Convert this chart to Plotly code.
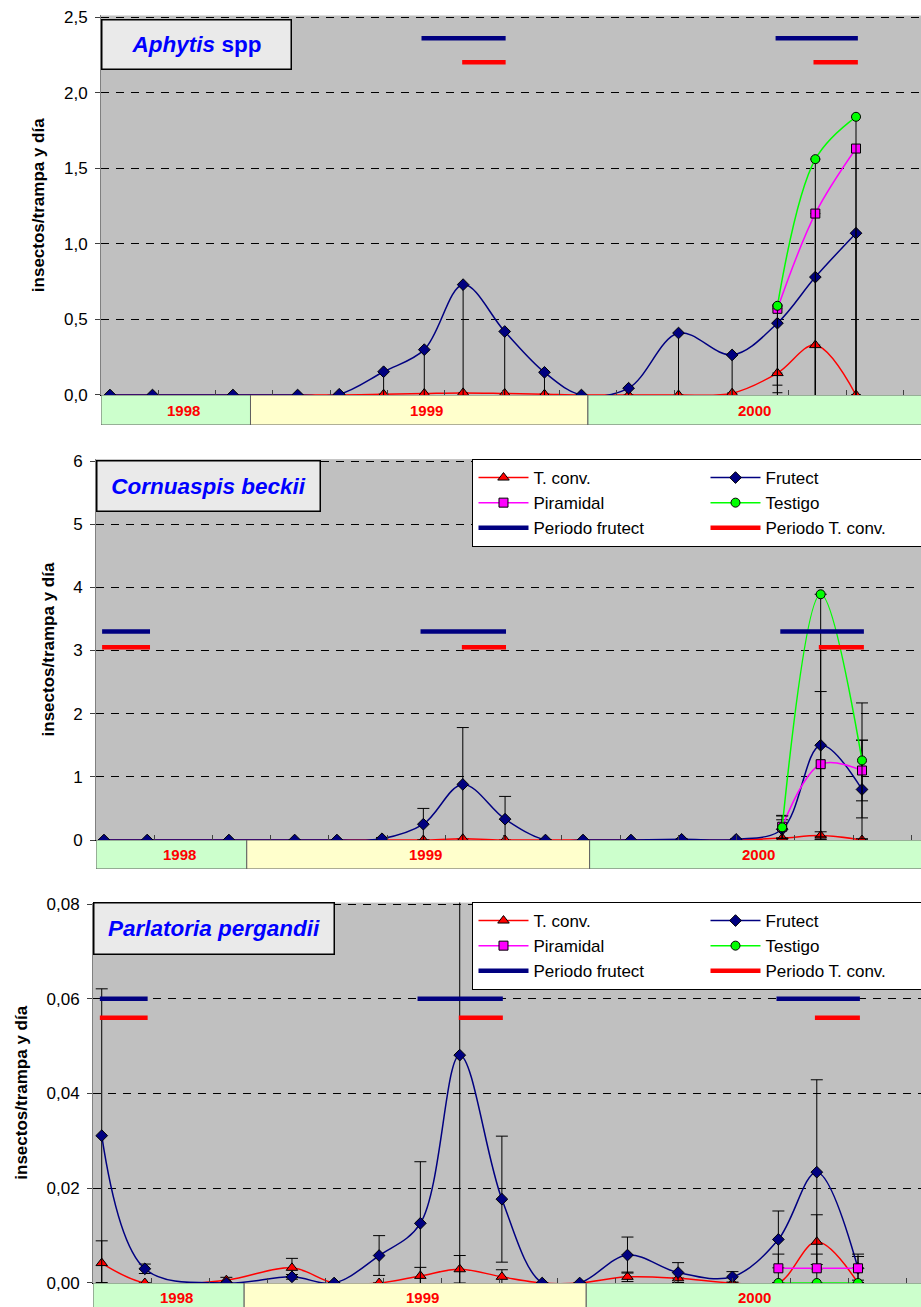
import plotly.graph_objects as go
import pandas as pd

FONT = "Liberation Sans, Arial, Helvetica, sans-serif"
W, H = 921, 1307

# ---------------- data ----------------
dates = ["1998-08-02", "1998-09-17", "1998-12-13", "1999-02-21", "1999-04-07",
         "1999-05-25", "1999-07-08", "1999-08-19", "1999-10-03", "1999-11-15",
         "1999-12-25", "2000-02-14", "2000-04-08", "2000-06-05", "2000-07-24",
         "2000-09-03", "2000-10-17"]
dates_2000 = dates[14:]

series_names = ["T. conv.", "Frutect", "Piramidal", "Testigo",
                "Periodo frutect", "Periodo T. conv."]

# Aphytis spp
aph_tconv = [0, 0, 0, 0, 0, 0.005, 0.01, 0.014, 0.01, 0.005, 0, 0, 0, 0.012, 0.145, 0.33, 0]
aph_frutect = [0, 0, 0, 0, 0.005, 0.154, 0.30, 0.73, 0.42, 0.15, 0, 0.045, 0.41, 0.265, 0.475, 0.78, 1.07]
aph_piramidal = [0.57, 1.20, 1.63]
aph_testigo = [0.59, 1.56, 1.84]
aph_tconv_err_minus = [0, 0, 0, 0, 0, 0, 0, 0, 0, 0, 0, 0, 0, 0, 0.2, 0.5, 0]
aph_frutect_err_minus = [0, 0, 0, 0, 0, 0.25, 0.45, 1.0, 0.6, 0.25, 0, 0.08, 0.6, 0.4, 0.41, 1.1, 1.5]
aph_piramidal_err_minus = [0.7, 1.5, 2.0]
aph_testigo_err_minus = [0.575, 2.0, 2.5]

# Cornuaspis beckii
cor_tconv = [0, 0, 0, 0, 0, 0, 0, 0.02, 0, 0, 0, 0, 0, 0, 0.03, 0.07, 0]
cor_frutect = [0, 0, 0, 0, 0, 0.02, 0.25, 0.88, 0.33, 0, 0, 0, 0.01, 0.01, 0.17, 1.50, 0.80]
cor_piramidal = [0.21, 1.20, 1.10]
cor_testigo = [0.20, 3.89, 1.26]
cor_tconv_err = [0, 0, 0, 0, 0, 0, 0, 0, 0, 0, 0, 0, 0, 0, 0, 0.06, 0]
cor_frutect_err = [0, 0, 0, 0, 0, 0.02, 0.25, 0.90, 0.36, 0, 0, 0, 0.01, 0.01, 0.15, 1.5, 0.78]
cor_piramidal_err = [0.18, 1.15, 0.48]
cor_testigo_err_plus = [0.18, 0, 0.91]
cor_testigo_err_minus = [0.18, 4.2, 0.91]

# Parlatoria pergandii
par_tconv = [0.0042, 0, 0.0006, 0.0032, 0, 0, 0.0015, 0.0029, 0.0013, 0, 0, 0.0013, 0.001, 0, 0, 0.0087, 0]
par_frutect = [0.0311, 0.003, 0, 0.0013, 0, 0.0058, 0.0126, 0.0481, 0.0177, 0, 0, 0.0059, 0.0022, 0.0013, 0.0092, 0.0234, 0.0031]
par_piramidal = [0.0031, 0.0031, 0.0031]
par_testigo = [0, 0, 0]
par_tconv_err = [0.0047, 0, 0.0006, 0.002, 0, 0, 0.0018, 0.0029, 0.0015, 0, 0, 0.001, 0, 0, 0, 0.0057, 0]
par_frutect_err = [0.031, 0.001, 0, 0.0005, 0, 0.0042, 0.013, 0.05, 0.0133, 0, 0, 0.0038, 0.0021, 0.0011, 0.006, 0.0195, 0.0025]
par_piramidal_err = [0.003, 0.003, 0.003]

# treatment periods (start, end)
periodo_frutect = [("1998-07-31", "1998-09-20"), ("1999-07-05", "1999-10-04"), ("2000-07-22", "2000-10-19")]
periodo_tconv = [("1998-07-31", "1998-09-20"), ("1999-08-18", "1999-10-04"), ("2000-09-01", "2000-10-19")]

years = ["1998", "1999", "2000"]
year_starts = ["1999-01-01", "2000-01-01"]
year_label_dates = ["1998-10-21", "1999-07-10", "2000-06-29"]

titles = ["<b><i>Aphytis</i> spp</b>", "<b><i>Cornuaspis beckii</i></b>", "<b><i>Parlatoria pergandii</i></b>"]

# ---------------- styling ----------------
C_TC, C_FR, C_PI, C_TE = "#FF0000", "#000080", "#FF00FF", "#00FF00"
BASE = pd.Timestamp("1999-01-01")


def d(off):
    return (BASE + pd.Timedelta(days=off)).strftime("%Y-%m-%d %H:%M:%S")


panels = [
    dict(xr=(-161.7, 725.3), xdom=101 / W, ydom=(0.697781, 0.988141), bdom=(0.674828, 0.697781),
         brange=(0, 1), yr=(0, 2.51), dtick=0.5, fmt=".1f", per_from=1,
         per_y=(2.36, 2.2), box=(101, 19, 191, 51)),
    dict(xr=(-160.5, 717.8), xdom=96 / W, ydom=(0.357307, 0.648737), bdom=(0.335119, 0.357307),
         brange=(0, 1), yr=(0, 6.03), dtick=1, fmt="d", per_from=0,
         per_y=(3.3, 3.05), box=(96, 460, 225, 52)),
    dict(xr=(-161.3, 722.2), xdom=93 / W, ydom=(0.018363, 0.309411), bdom=(0.0, 0.018363),
         brange=(0.2, 1), yr=(0, 0.0803), dtick=0.02, fmt=".2f", per_from=0,
         per_y=(0.06, 0.056), box=(93, 902, 242, 53)),
]

data = [
    dict(tc=aph_tconv, fr=aph_frutect, pi=aph_piramidal, te=aph_testigo,
         tc_e=dict(type="data", symmetric=False, array=[0] * 17, arrayminus=aph_tconv_err_minus),
         fr_e=dict(type="data", symmetric=False, array=[0] * 17, arrayminus=aph_frutect_err_minus),
         pi_e=dict(type="data", symmetric=False, array=[0] * 3, arrayminus=aph_piramidal_err_minus),
         te_e=dict(type="data", symmetric=False, array=[0] * 3, arrayminus=aph_testigo_err_minus),
         legend=None),
    dict(tc=cor_tconv, fr=cor_frutect, pi=cor_piramidal, te=cor_testigo,
         tc_e=dict(type="data", array=cor_tconv_err),
         fr_e=dict(type="data", array=cor_frutect_err),
         pi_e=dict(type="data", array=cor_piramidal_err),
         te_e=dict(type="data", symmetric=False, array=cor_testigo_err_plus, arrayminus=cor_testigo_err_minus),
         legend="legend"),
    dict(tc=par_tconv, fr=par_frutect, pi=par_piramidal, te=par_testigo,
         tc_e=dict(type="data", array=par_tconv_err),
         fr_e=dict(type="data", array=par_frutect_err),
         pi_e=dict(type="data", array=par_piramidal_err),
         te_e=None,
         legend="legend2"),
]

fig = go.Figure()
shapes, annotations = [], []
layout_axes = {}

for i, (p, dd) in enumerate(zip(panels, data)):
    xm, ym = 2 * i + 1, 2 * i + 1
    xb, yb = 2 * i + 2, 2 * i + 2
    xname = "x" if xm == 1 else f"x{xm}"
    yname = "y" if ym == 1 else f"y{ym}"
    xbn, ybn = f"x{xb}", f"y{yb}"
    show = dd["legend"] is not None
    leg = dd["legend"] or "legend"

    def err(e, w):
        if e is None:
            return None
        e = dict(e)
        e.update(color="black", thickness=1, width=w)
        return e

    ew = 5 if i == 0 else 6
    mline = dict(color="black", width=1)
    fig.add_trace(go.Scatter(x=dates, y=dd["tc"], name=series_names[0], mode="lines+markers",
                             line=dict(color=C_TC, width=1.5, shape="spline", smoothing=1),
                             marker=dict(symbol="triangle-up", size=10, color=C_TC, line=mline),
                             error_y=err(dd["tc_e"], ew), xaxis=xname, yaxis=yname,
                             showlegend=show, legend=leg))
    fig.add_trace(go.Scatter(x=dates, y=dd["fr"], name=series_names[1], mode="lines+markers",
                             line=dict(color=C_FR, width=1.5, shape="spline", smoothing=1),
                             marker=dict(symbol="diamond", size=9, color=C_FR, line=mline),
                             error_y=err(dd["fr_e"], ew), xaxis=xname, yaxis=yname,
                             showlegend=show, legend=leg))
    fig.add_trace(go.Scatter(x=dates_2000, y=dd["pi"], name=series_names[2], mode="lines+markers",
                             line=dict(color=C_PI, width=1.5, shape="spline", smoothing=1),
                             marker=dict(symbol="square", size=9, color=C_PI, line=mline),
                             error_y=err(dd["pi_e"], ew), xaxis=xname, yaxis=yname,
                             showlegend=show, legend=leg))
    te_kw = {}
    if dd["te_e"] is not None:
        te_kw["error_y"] = err(dd["te_e"], ew)
    fig.add_trace(go.Scatter(x=dates_2000, y=dd["te"], name=series_names[3], mode="lines+markers",
                             line=dict(color=C_TE, width=1.5, shape="spline", smoothing=1),
                             marker=dict(symbol="circle", size=9, color=C_TE, line=mline),
                             xaxis=xname, yaxis=yname, showlegend=show, legend=leg, **te_kw))
    for periods, yv, col, nm in ((periodo_frutect, p["per_y"][0], C_FR, series_names[4]),
                                 (periodo_tconv, p["per_y"][1], C_TC, series_names[5])):
        px_, py_ = [], []
        for (a, b) in periods[p["per_from"]:]:
            px_ += [a, b, None]
            py_ += [yv, yv, None]
        fig.add_trace(go.Scatter(x=px_, y=py_, name=nm, mode="lines",
                                 line=dict(color=col, width=4.5), xaxis=xname, yaxis=yname,
                                 showlegend=show, legend=leg, hoverinfo="skip"))

    r0, r1 = d(p["xr"][0]), d(p["xr"][1])
    xkey = "xaxis" if xm == 1 else f"xaxis{xm}"
    ykey = "yaxis" if ym == 1 else f"yaxis{ym}"
    layout_axes[xkey] = dict(domain=[p["xdom"], 1], anchor=yname, type="date", range=[r0, r1],
                             showticklabels=False, showgrid=False, zeroline=False,
                             ticks="inside", ticklen=5, tickcolor="#404040",
                             tick0=r0, dtick=62 * 86400000,
                             showline=True, linecolor="black", linewidth=1)
    layout_axes[ykey] = dict(domain=list(p["ydom"]), anchor=xname, range=list(p["yr"]),
                             dtick=p["dtick"], tick0=0, tickformat=p["fmt"],
                             showgrid=True, gridcolor="black", gridwidth=1, griddash="8px,7px",
                             zeroline=False, showline=True, linecolor="#808080", linewidth=1,
                             ticks="outside", ticklen=5, tickcolor="#404040",
                             ticklabelstandoff=4,
                             tickfont=dict(family=FONT, size=17, color="black"),
                             title=dict(text="<b>insectos/trampa y día</b>", standoff=14,
                                        font=dict(family=FONT, size=17, color="black")))
    layout_axes[f"xaxis{xb}"] = dict(domain=[p["xdom"], 1], anchor=ybn, matches=xname,
                                     type="date", visible=False)
    layout_axes[f"yaxis{yb}"] = dict(domain=list(p["bdom"]), anchor=xbn, range=list(p["brange"]),
                                     visible=False, fixedrange=True)

    # year bands
    edges = [r0] + year_starts + ["2001-06-01"]
    fills = ["#CCFFCC", "#FFFFCC", "#CCFFCC"]
    for k in range(3):
        shapes.append(dict(type="rect", xref=xbn, yref=ybn, x0=edges[k], x1=edges[k + 1],
                           y0=0, y1=1, fillcolor=fills[k], line=dict(color="#606060", width=1),
                           layer="above"))
        annotations.append(dict(xref=xbn, yref=ybn, x=year_label_dates[k], y=0.5,
                                text=f"<b>{years[k]}</b>", showarrow=False,
                                font=dict(family=FONT, size=15, color="#FF0000")))

    # title box
    bx, by, bw_, bh_ = p["box"]
    annotations.append(dict(xref="paper", yref="paper", x=bx / W, y=1 - by / H,
                            xanchor="left", yanchor="top", text=titles[i], showarrow=False,
                            width=bw_ - 3, height=bh_ - 3, align="center", valign="middle",
                            bgcolor="#EAEAEA", bordercolor="black", borderwidth=1.5, borderpad=0,
                            font=dict(family=FONT, size=22.5, color="#0000FF")))

legend_common = dict(orientation="h", xanchor="right", yanchor="top",
                     bgcolor="white", bordercolor="black", borderwidth=1,
                     font=dict(family=FONT, size=17, color="black"),
                     itemwidth=50, entrywidth=167, entrywidthmode="pixels",
                     traceorder="normal")

fig.update_layout(
    width=W, height=H,
    margin=dict(l=0, r=0, t=0, b=0, autoexpand=False),
    paper_bgcolor="white", plot_bgcolor="#C0C0C0",
    separators=", ",
    font=dict(family=FONT, size=15, color="black"),
    shapes=shapes, annotations=annotations,
    legend=dict(x=1.019, y=1 - 459 / H, **legend_common),
    legend2=dict(x=1.019, y=1 - 902 / H, **legend_common),
    hovermode=False,
    **layout_axes,
)

fig.write_html(
    "out.html",
    config={"displayModeBar": False},
    post_script="document.body.style.margin='0px';document.body.style.padding='0px';"
                "document.body.style.overflow='hidden';"
                "document.documentElement.style.overflow='hidden';",
)
